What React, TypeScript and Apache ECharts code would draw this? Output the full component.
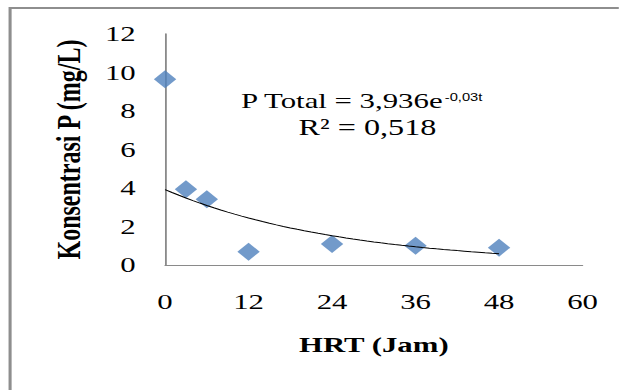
import React, { useEffect, useRef } from "react";
import * as echarts from "echarts";

// ---- data ----
const xTicks = [0, 12, 24, 36, 48, 60];
const yTicks = [0, 2, 4, 6, 8, 10, 12];
const hrtHours = [0, 3, 6, 12, 24, 36, 48];
const pTotal = [9.65, 3.93, 3.41, 0.69, 1.09, 1.0, 0.9];
const equationMain = "P Total = 3,936e";
const equationExp = "-0,03t";
const rSquaredText = "R² = 0,518";
const xTitle = "HRT (Jam)";
const yTitle = "Konsentrasi P (mg/L)";

// The reference picture is horizontally stretched; reproduce that with a CSS scale.
const STRETCH = 1.4;
const W = 619;
const H = 390;
const IW = W / STRETCH;

function expFit(xs: number[], ys: number[]) {
  const n = xs.length;
  const ls = ys.map((v) => Math.log(v));
  const mx = xs.reduce((a, b) => a + b, 0) / n;
  const my = ls.reduce((a, b) => a + b, 0) / n;
  let sxy = 0;
  let sxx = 0;
  for (let i = 0; i < n; i++) {
    sxy += (xs[i] - mx) * (ls[i] - my);
    sxx += (xs[i] - mx) * (xs[i] - mx);
  }
  const b = sxy / sxx;
  const a = Math.exp(my - b * mx);
  return { a, b };
}

const fit = expFit(hrtHours, pTotal);
const tMin = Math.min(...hrtHours);
const tMax = Math.max(...hrtHours);
const trendData: number[][] = [];
for (let t = tMin; t <= tMax; t += 1) {
  trendData.push([t, fit.a * Math.exp(fit.b * t)]);
}

const SERIF = "'Liberation Serif', 'Times New Roman', serif";
const SANS = "'Liberation Sans', Arial, sans-serif";

function measure(text: string, font: string, fallback: number) {
  try {
    const c = document.createElement("canvas");
    const ctx = c.getContext("2d");
    if (!ctx) return fallback;
    ctx.font = font;
    return ctx.measureText(text).width;
  } catch (e) {
    return fallback;
  }
}

export default function App() {
  const ref = useRef<HTMLDivElement>(null);
  useEffect(() => {
    if (!ref.current) return;
    const chart = echarts.init(ref.current, undefined, { renderer: "svg" });
    const eqX = 172.1;
    const eqSize = 22;
    const mainW = measure(equationMain, `${eqSize}px 'Liberation Serif'`, 150);
    const option: any = {
      animation: false,
      backgroundColor: "#ffffff",
      grid: { left: 117.9, right: 25.9, top: 34, bottom: 125, containLabel: false },
      xAxis: {
        type: "value",
        min: xTicks[0],
        max: xTicks[xTicks.length - 1],
        interval: xTicks[1] - xTicks[0],
        axisLine: { show: true, lineStyle: { color: "#8a8a8a", width: 1 } },
        axisTick: { show: false },
        splitLine: { show: false },
        axisLabel: { margin: 26, fontFamily: SERIF, fontSize: 22, color: "#000" },
        name: xTitle,
        nameLocation: "middle",
        nameGap: 69,
        nameTextStyle: { fontFamily: SERIF, fontSize: 22, fontWeight: "bold", color: "#000" },
      },
      yAxis: {
        type: "value",
        min: yTicks[0],
        max: yTicks[yTicks.length - 1],
        interval: yTicks[1] - yTicks[0],
        axisLine: { show: true, lineStyle: { color: "#8a8a8a", width: 1.3 } },
        axisTick: { show: false },
        splitLine: { show: false },
        axisLabel: { margin: 21, fontFamily: SERIF, fontSize: 22, color: "#000" },
        name: yTitle,
        nameLocation: "middle",
        nameGap: 57,
        nameTextStyle: { fontFamily: SERIF, fontSize: 24, fontWeight: "bold", color: "#000" },
      },
      series: [
        {
          type: "scatter",
          data: hrtHours.map((x, i) => [x, pTotal[i]]),
          symbol: "diamond",
          symbolSize: [16, 18],
          itemStyle: { color: "#4F81BD" },
          z: 2,
        },
        {
          type: "line",
          data: trendData,
          symbol: "none",
          showSymbol: false,
          smooth: false,
          lineStyle: { color: "#000", width: 1 },
          z: 3,
          silent: true,
        },
      ],
      graphic: [
        {
          type: "rect",
          shape: { x: 7.2, y: 8, width: 800, height: 600 },
          style: { fill: "none", stroke: "#8e8e8e", lineWidth: 2.2 },
          silent: true,
        },
        {
          type: "text",
          x: eqX,
          y: 100.6,
          style: {
            text: equationMain,
            fontFamily: SERIF,
            fontSize: eqSize,
            fill: "#000",
            align: "left",
            verticalAlign: "middle",
            textAlign: "left",
            textVerticalAlign: "middle",
          },
        },
        {
          type: "text",
          x: eqX + mainW + 0.3,
          y: 97.5,
          style: {
            text: equationExp,
            fontFamily: SANS,
            fontSize: 10.5,
            fill: "#000",
            align: "left",
            verticalAlign: "middle",
            textAlign: "left",
            textVerticalAlign: "middle",
          },
        },
        {
          type: "text",
          x: 262.5,
          y: 127,
          style: {
            text: rSquaredText,
            fontFamily: SERIF,
            fontSize: 23,
            fill: "#000",
            align: "center",
            verticalAlign: "middle",
            textAlign: "center",
            textVerticalAlign: "middle",
          },
        },
      ],
    };
    chart.setOption(option);
    return () => chart.dispose();
  }, []);

  return (
    <div
      style={{
        position: "absolute",
        left: 0,
        top: 0,
        width: W,
        height: H,
        overflow: "hidden",
        background: "#fff",
      }}
    >
      <div
        ref={ref}
        style={{
          width: IW,
          height: H,
          transform: `scaleX(${STRETCH})`,
          transformOrigin: "0 0",
        }}
      />
    </div>
  );
}
